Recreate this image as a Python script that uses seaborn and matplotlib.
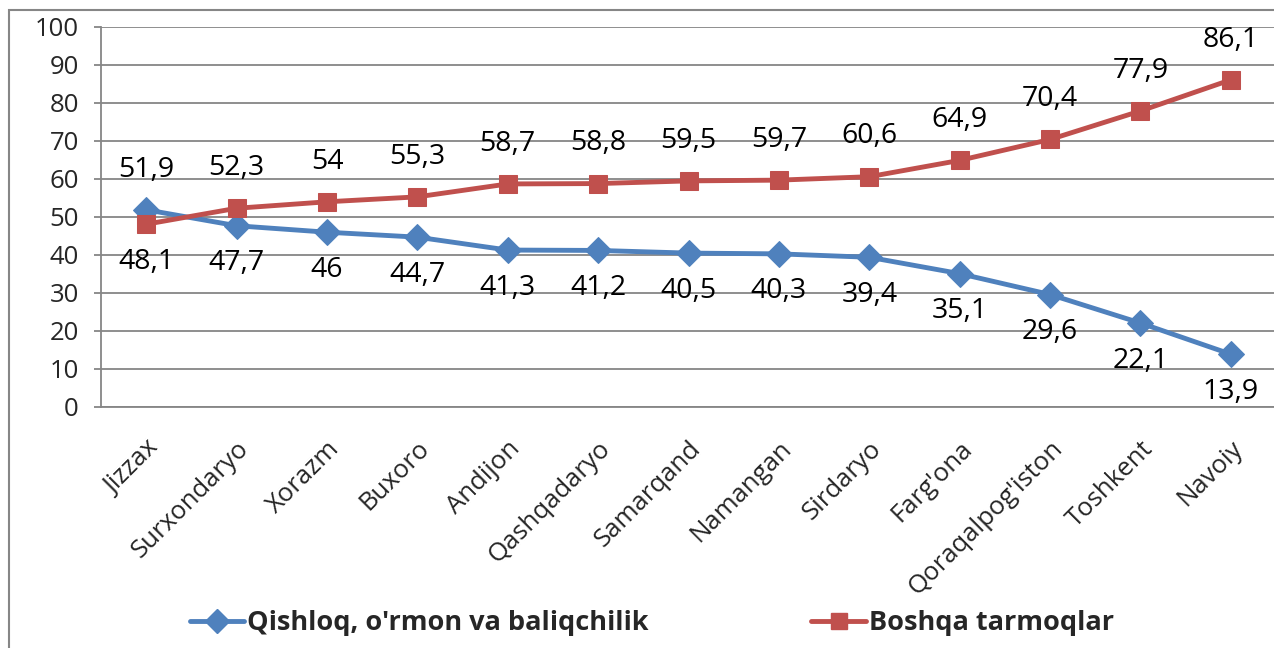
import matplotlib
matplotlib.use("Agg")
import matplotlib.pyplot as plt
from matplotlib.lines import Line2D
from matplotlib.patches import Rectangle
import seaborn as sns
import pandas as pd

categories = ["Jizzax", "Surxondaryo", "Xorazm", "Buxoro", "Andijon", "Qashqadaryo",
              "Samarqand", "Namangan", "Sirdaryo", "Farg'ona", "Qoraqalpog'iston",
              "Toshkent", "Navoiy"]
qishloq = [51.9, 47.7, 46, 44.7, 41.3, 41.2, 40.5, 40.3, 39.4, 35.1, 29.6, 22.1, 13.9]
boshqa = [48.1, 52.3, 54, 55.3, 58.7, 58.8, 59.5, 59.7, 60.6, 64.9, 70.4, 77.9, 86.1]
series_names = ["Qishloq, o'rmon va baliqchilik", "Boshqa tarmoqlar"]
yticks = [0, 10, 20, 30, 40, 50, 60, 70, 80, 90, 100]

BLUE = "#4F81BD"
RED = "#C0504D"
GRID = "#868686"

sns.set_style("white")
plt.rcParams['font.family'] = ['Open Sans', 'DejaVu Sans']

fig = plt.figure(figsize=(12.74, 6.48), dpi=100)
ax = fig.add_axes([101/1274, 1-407/648, 1175/1274, 380/648])

pos = list(range(len(categories)))
df = pd.DataFrame({"pos": pos, "q": qishloq, "b": boshqa})

sns.lineplot(data=df, x="pos", y="q", ax=ax, color=BLUE, lw=3.5, marker="D",
             markersize=13, markeredgecolor=BLUE, sort=False, zorder=3)
sns.lineplot(data=df, x="pos", y="b", ax=ax, color=RED, lw=3.5, marker="s",
             markersize=13.5, markeredgecolor=RED, sort=False, zorder=4)

def fmt(v):
    return ("%g" % v).replace(".", ",")

for i in pos:
    q, b = qishloq[i], boshqa[i]
    for v, hi in ((q, q >= b), (b, b > q)):
        dy = 29 if hi else -27
        ax.annotate(fmt(v), (i, v), xytext=(0, dy), textcoords="offset points",
                    ha="center", va="center", fontsize=20.5, color="black")

ax.set_xlim(-0.5, len(categories) - 0.5)
ax.set_ylim(0, 100)
ax.set_yticks(yticks)
ax.set_yticklabels([str(t) for t in yticks], fontsize=18.5)
ax.set_xticks(pos)
ax.set_xticklabels(categories, rotation=45, ha="right", rotation_mode="anchor", fontsize=18.5)
ax.tick_params(axis="x", length=0, pad=21)
ax.set_xticks([p - 0.5 for p in pos] + [len(pos) - 0.5], minor=True)
ax.tick_params(axis="x", which="minor", length=6, width=1.3, color=GRID, direction="out")
ax.tick_params(axis="y", length=5, width=1.3, color=GRID, direction="out", pad=11, left=True)
ax.set_xlabel("")
ax.set_ylabel("")
ax.yaxis.grid(True, color=GRID, lw=1.3)
ax.set_axisbelow(True)
for s in ["top", "right"]:
    ax.spines[s].set_visible(False)
for s in ["left", "bottom"]:
    ax.spines[s].set_color(GRID)
    ax.spines[s].set_linewidth(1.3)

handles = [Line2D([], [], color=BLUE, lw=3.5, marker="D", markersize=12),
           Line2D([], [], color=RED, lw=3.5, marker="s", markersize=12)]
fig.legend(handles, series_names, loc="center left", bbox_to_anchor=(190/1274, 1-623/648),
           ncol=2, frameon=False, handlelength=2.0, handletextpad=0.12, columnspacing=6.0,
           prop={"weight": "bold", "size": 19.5}, borderaxespad=0, borderpad=0)

fig.patches.append(Rectangle((9/1274, -0.1), 1.2, 1.1 - 10/648, transform=fig.transFigure,
                             fill=False, edgecolor=GRID, lw=1.5, figure=fig))

fig.savefig("out.png", dpi=100)
